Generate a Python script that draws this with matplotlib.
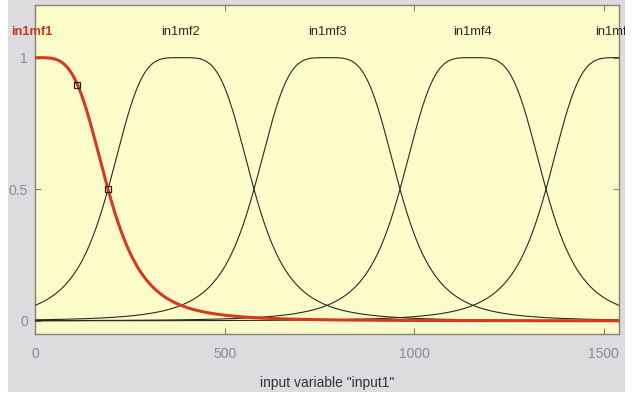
import numpy as np
import matplotlib
matplotlib.use("Agg")
import matplotlib.pyplot as plt
from matplotlib.patches import Rectangle

# Membership functions of "input1" (generalized bell: a, b, c)
mf_names = ["in1mf1", "in1mf2", "in1mf3", "in1mf4", "in1mf5"]
mf_a = [192.5, 192.5, 192.5, 192.5, 192.5]
mf_b = [2.0, 2.0, 2.0, 2.0, 2.0]
mf_c = [0.0, 385.0, 770.0, 1155.0, 1540.0]
x_range = [0, 1540]
selected = 0
handle_x = [112.0, 192.5]

x_ticks = [0, 500, 1000, 1500]
y_ticks = [0, 0.5, 1]
y_tick_labels = ["0", "0.5", "1"]
x_label = 'input variable "input1"'


def gbellmf(x, a, b, c):
    return 1.0 / (1.0 + np.abs((x - c) / a) ** (2 * b))


FONT = ["Liberation Sans Narrow", "Liberation Sans", "DejaVu Sans"]
plt.rcParams["font.family"] = FONT

W, H = 634, 396
fig = plt.figure(figsize=(W / 100, H / 100), dpi=100)
fig.patch.set_facecolor("#dddbde")

ax = fig.add_axes([35 / W, (H - 334) / H, (619 - 35) / W, (334 - 5) / H])
ax.set_facecolor("#fcfccb")
ax.set_xlim(x_range)
ax.set_ylim(-0.05, 1.2)

# name labels sit over each curve's peak; the last one is nudged inward
label_x = list(mf_c)
label_x[0] = mf_c[0] - 8
label_x[-1] = mf_c[-1] - 12

xs = np.linspace(x_range[0], x_range[1], 1200)
for i, name in enumerate(mf_names):
    if i == selected:
        continue
    ys = gbellmf(xs, mf_a[i], mf_b[i], mf_c[i])
    ax.plot(xs, ys, color="#2a2a22", lw=0.8, zorder=3)
    ax.text(label_x[i], 1.098, name, ha="center", va="center", fontsize=9.3,
            color="#2a2a22", clip_on=False, zorder=5)

# highlighted membership function
ys = gbellmf(xs, mf_a[selected], mf_b[selected], mf_c[selected])
ax.plot(xs, ys, color="#d63a1e", lw=2.2, zorder=4, solid_capstyle="butt")
hx = np.array(handle_x)
hy = gbellmf(hx, mf_a[selected], mf_b[selected], mf_c[selected])
ax.plot(hx, hy, ls="none", marker="s", ms=5, mfc="none", mec="#222222",
        mew=0.9, zorder=6)
ax.text(label_x[selected], 1.098, mf_names[selected], ha="center",
        va="center", fontsize=9.3, fontweight="bold", color="#c8341e",
        clip_on=False, zorder=5)

ax.set_xticks(x_ticks)
ax.set_xticklabels([str(t) for t in x_ticks])
ax.set_yticks(y_ticks)
ax.set_yticklabels(y_tick_labels)
ax.tick_params(direction="in", length=4, width=0.8, colors="#8a8078",
               labelcolor="#8c8a94", labelsize=10, top=True, right=True)
ax.tick_params(axis="x", pad=9)
ax.tick_params(axis="y", pad=5)
for s in ax.spines.values():
    s.set_color("#8a8070")
    s.set_linewidth(1.0)
ax.set_xlabel(x_label, fontsize=10, color="#33333c", labelpad=11)

# white margins of the screenshot panel, drawn over everything
for (x0, y0, w, h) in [(0, 0, 8, H), (625, 0, W - 625, H), (0, 0, W, 4)]:
    fig.patches.append(Rectangle((x0 / W, y0 / H), w / W, h / H,
                                 transform=fig.transFigure,
                                 facecolor="white", edgecolor="none",
                                 zorder=10))

fig.savefig("out.png", dpi=100, facecolor=fig.get_facecolor())
